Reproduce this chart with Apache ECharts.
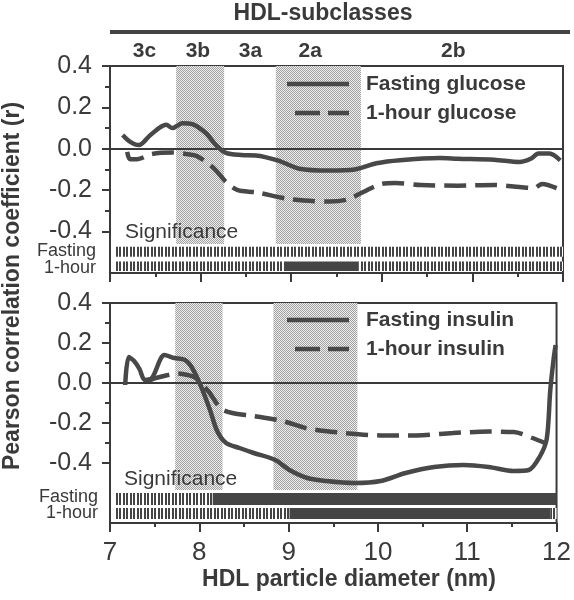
<!DOCTYPE html>
<html>
<head>
<meta charset="utf-8">
<script src="https://cdn.jsdelivr.net/npm/echarts@6/dist/echarts.min.js"></script>
<style>html,body{margin:0;padding:0;background:#fff;}#chart{width:574px;height:600px;}</style>
</head>
<body>
<div id="chart"></div>
<script>
// ---------- data ----------
const xTicks = [7, 8, 9, 10, 11, 12];
const yTickLabels = [-0.4, -0.2, 0, 0.2, 0.4];
const yMinorTicks = [-0.3, -0.1, 0.1, 0.3];
const subclassNames = ['3c', '3b', '3a', '2a', '2b'];
const subclassCenters = [7.38, 7.97, 8.55, 9.21, 10.79];
const shadedRanges = [[7.73, 8.26], [8.83, 9.77]];
const glucoseNames = ['Fasting glucose', '1-hour glucose'];
const insulinNames = ['Fasting insulin', '1-hour insulin'];

const fastingGlucose = [[7.14,0.067],[7.22,0.035],[7.32,0.018],[7.43,0.06],[7.54,0.10],[7.62,0.116],[7.69,0.10],[7.80,0.124],[7.91,0.119],[8.06,0.075],[8.17,0.018],[8.28,-0.02],[8.45,-0.03],[8.61,-0.032],[8.85,-0.056],[9.09,-0.096],[9.42,-0.105],[9.70,-0.10],[9.94,-0.07],[10.2,-0.055],[10.64,-0.045],[10.84,-0.048],[11.24,-0.053],[11.52,-0.064],[11.65,-0.047],[11.73,-0.023],[11.85,-0.023],[11.97,-0.056]];
const oneHourGlucose = [[7.19,-0.015],[7.22,-0.05],[7.30,-0.05],[7.46,-0.025],[7.69,-0.018],[7.84,-0.025],[7.96,-0.035],[8.06,-0.064],[8.16,-0.10],[8.28,-0.16],[8.41,-0.20],[8.61,-0.21],[8.94,-0.24],[9.14,-0.25],[9.42,-0.255],[9.62,-0.245],[9.79,-0.21],[9.99,-0.17],[10.15,-0.165],[10.43,-0.175],[10.84,-0.178],[11.24,-0.175],[11.52,-0.185],[11.68,-0.19],[11.77,-0.17],[11.93,-0.19]];
const fastingInsulin = [[7.17,-0.01],[7.21,0.13],[7.27,0.11],[7.33,0.07],[7.39,0.015],[7.47,0.025],[7.61,0.14],[7.72,0.125],[7.84,0.115],[7.92,0.075],[8.02,-0.018],[8.12,-0.135],[8.2,-0.24],[8.3,-0.30],[8.45,-0.325],[8.61,-0.35],[8.85,-0.385],[9.01,-0.435],[9.21,-0.475],[9.42,-0.49],[9.74,-0.50],[10.03,-0.49],[10.31,-0.45],[10.63,-0.42],[10.96,-0.41],[11.24,-0.42],[11.52,-0.44],[11.69,-0.435],[11.81,-0.37],[11.89,-0.28],[11.93,-0.035],[11.97,0.13],[11.99,0.19]];
const oneHourInsulin = [[7.43,0.01],[7.5,0.023],[7.65,0.04],[7.76,0.048],[7.87,0.04],[7.96,0.025],[8.1,-0.04],[8.24,-0.127],[8.37,-0.15],[8.61,-0.165],[8.93,-0.19],[9.21,-0.227],[9.62,-0.25],[10.03,-0.262],[10.43,-0.262],[10.84,-0.25],[11.24,-0.243],[11.52,-0.245],[11.73,-0.275],[11.87,-0.30]];

// significance segments: [start, end, significant(1)/not(0), row(0 = fasting, 1 = 1-hour)]
const sigGlucose = [[7.05,12,0,0],[7.05,8.92,0,1],[8.92,9.74,1,1],[9.74,12,0,1]];
const sigInsulin = [[7.05,8.15,0,0],[8.15,12,1,0],[7.05,9.01,0,1],[9.01,11.93,1,1],[11.93,12,0,1]];

// ---------- styles / layout ----------
const FONT = '"Liberation Sans", Arial, Helvetica, sans-serif';
const INK = '#3a3a3a';
const LINE = '#484848';
const DASH = [22, 9];

function makePattern(w, h, draw) {
  const c = document.createElement('canvas');
  c.width = w; c.height = h;
  const ctx = c.getContext('2d');
  draw(ctx);
  return { image: c, repeat: 'repeat' };
}
const stipple = makePattern(2, 2, ctx => {
  ctx.fillStyle = '#eeeeee'; ctx.fillRect(0, 0, 2, 2);
  ctx.fillStyle = '#a0a0a0'; ctx.fillRect(0, 0, 1, 1); ctx.fillRect(1, 1, 1, 1);
});
const hatch = makePattern(7, 4, ctx => {
  ctx.fillStyle = '#ffffff'; ctx.fillRect(0, 0, 7, 4);
  ctx.fillStyle = '#444444'; ctx.fillRect(0, 0, 2, 4); ctx.fillRect(4, 0, 2, 4);
});

const panels = [
  { yMin: -0.6, shadeBottom: -0.46, rows: [[-0.473, -0.521], [-0.545, -0.59]] },
  { yMin: -0.7, shadeBottom: -0.535, rows: [[-0.55, -0.61], [-0.625, -0.68]] }
];

const chart = echarts.init(document.getElementById('chart'), null, { renderer: 'canvas' });

function xAxisFor(gi, showLabels) {
  return {
    type: 'value', gridIndex: gi, min: 7, max: 12, interval: 1,
    axisLine: { onZero: false, lineStyle: { color: INK, width: 2 } },
    axisTick: { show: true, length: 9, lineStyle: { color: INK, width: 2 } },
    minorTick: { show: true, splitNumber: 2, length: 4, lineStyle: { color: INK, width: 2 } },
    splitLine: { show: false },
    axisLabel: { show: showLabels, fontFamily: FONT, fontSize: 26, color: INK, margin: 17 }
  };
}
function yAxesFor(gi, yMin) {
  return [{
    type: 'value', gridIndex: gi, min: yMin, max: 0.4, interval: 0.1, position: 'left',
    axisLine: { onZero: false, lineStyle: { color: INK, width: 2 } },
    axisTick: { show: true, length: 8, customValues: yTickLabels, lineStyle: { color: INK, width: 2 } },
    splitLine: { show: false },
    axisLabel: { customValues: yTickLabels, fontFamily: FONT, fontSize: 25, color: INK, margin: 18,
      formatter: v => (Math.abs(v) < 1e-9 ? 0 : v).toFixed(1) }
  }, {
    type: 'value', gridIndex: gi, min: yMin, max: 0.4, interval: 0.1, position: 'left',
    axisLine: { show: false, onZero: false },
    axisTick: { show: true, length: 5, customValues: yMinorTicks, lineStyle: { color: INK, width: 2 } },
    splitLine: { show: false },
    axisLabel: { show: false }
  }];
}

function shadeSeries(gi) {
  const p = panels[gi];
  return {
    type: 'custom', xAxisIndex: gi, yAxisIndex: gi * 2, z: 1, silent: true,
    data: shadedRanges,
    renderItem: (params, api) => {
      const a = api.coord([api.value(0), 0.4]);
      const b = api.coord([api.value(1), p.shadeBottom]);
      return { type: 'rect', shape: { x: a[0], y: a[1], width: b[0] - a[0], height: b[1] - a[1] }, style: { fill: stipple } };
    }
  };
}
function sigSeries(gi, data) {
  const p = panels[gi];
  return {
    type: 'custom', xAxisIndex: gi, yAxisIndex: gi * 2, z: 2, silent: true,
    data: data,
    renderItem: (params, api) => {
      const band = p.rows[api.value(3)];
      const a = api.coord([api.value(0), band[0]]);
      const b = api.coord([api.value(1), band[1]]);
      return { type: 'rect', shape: { x: a[0], y: a[1], width: b[0] - a[0], height: b[1] - a[1] },
        style: { fill: api.value(2) ? '#454545' : hatch } };
    }
  };
}
function lineSeries(gi, name, data, dashed, withZero) {
  const s = {
    type: 'line', name: name, xAxisIndex: gi, yAxisIndex: gi * 2, z: 4,
    data: data, showSymbol: false, symbol: 'none', smooth: 0.3,
    lineStyle: { color: LINE, width: 4.5, type: dashed ? DASH : 'solid' },
    itemStyle: { color: LINE }
  };
  if (withZero) {
    s.markLine = { silent: true, symbol: 'none', label: { show: false },
      lineStyle: { color: INK, width: 1.8, type: 'solid' }, data: [{ yAxis: 0 }], z: 3 };
  }
  return s;
}

function txt(x, y, text, size, bold, align, extra) {
  return Object.assign({ type: 'text', x: x, y: y, z: 10,
    style: { text: text, fontFamily: FONT, fontSize: size, fontWeight: bold ? 'bold' : 'normal', fill: INK, align: align || 'left', verticalAlign: 'middle' } }, extra || {});
}
// legend drawn as keys: solid / dashed sample line followed by the series name
function legendKeys(names, y0, y1) {
  return [
    { type: 'line', z: 10, shape: { x1: 287, y1: y0, x2: 349, y2: y0 }, style: { stroke: LINE, lineWidth: 4.5 } },
    { type: 'line', z: 10, shape: { x1: 295, y1: y1, x2: 349, y2: y1 }, style: { stroke: LINE, lineWidth: 4.5, lineDash: [25, 8] } },
    txt(366, y0, names[0], 21, true),
    txt(366, y1, names[1], 21, true)
  ];
}

const graphic = [
  txt(323, 14, 'HDL-subclasses', 23, true, 'center'),
  { type: 'line', shape: { x1: 110, y1: 32, x2: 570, y2: 32 }, style: { stroke: '#444', lineWidth: 4 } },
  txt(13, 286, 'Pearson correlation coefficient (r)', 23, true, 'center', { rotation: Math.PI / 2 }),
  txt(349, 580, 'HDL particle diameter (nm)', 23, true, 'center'),
  txt(125, 232, 'Significance', 21, false),
  txt(124, 479, 'Significance', 21, false),
  txt(96, 251, 'Fasting', 18, false, 'right'),
  txt(96, 268, '1-hour', 18, false, 'right'),
  txt(98, 497, 'Fasting', 18, false, 'right'),
  txt(98, 513, '1-hour', 18, false, 'right'),
  ...legendKeys(glucoseNames, 84, 113),
  ...legendKeys(insulinNames, 320, 349)
];
subclassNames.forEach((n, i) => {
  graphic.push(Object.assign(txt(0, 51, n, 21, true, 'center'), { id: 'sc' + i }));
});

const option = {
  animation: false,
  backgroundColor: '#ffffff',
  grid: [
    { left: 110, width: 453, top: 66, height: 207, show: true, borderColor: INK, borderWidth: 2 },
    { left: 110, width: 453, top: 303, height: 220, show: true, borderColor: INK, borderWidth: 2 }
  ],
  xAxis: [xAxisFor(0, false), xAxisFor(1, true)],
  yAxis: [...yAxesFor(0, panels[0].yMin), ...yAxesFor(1, panels[1].yMin)],
  graphic: graphic,
  series: [
    shadeSeries(0), shadeSeries(1),
    sigSeries(0, sigGlucose), sigSeries(1, sigInsulin),
    lineSeries(0, glucoseNames[0], fastingGlucose, false, true),
    lineSeries(0, glucoseNames[1], oneHourGlucose, true, false),
    lineSeries(1, insulinNames[0], fastingInsulin, false, true),
    lineSeries(1, insulinNames[1], oneHourInsulin, true, false)
  ]
};
chart.setOption(option);
// subclass labels positioned through the x scale
subclassNames.forEach((n, i) => {
  const px = chart.convertToPixel({ xAxisIndex: 0 }, subclassCenters[i]);
  chart.setOption({ graphic: [{ id: 'sc' + i, x: px }] });
});
</script>
</body>
</html>
